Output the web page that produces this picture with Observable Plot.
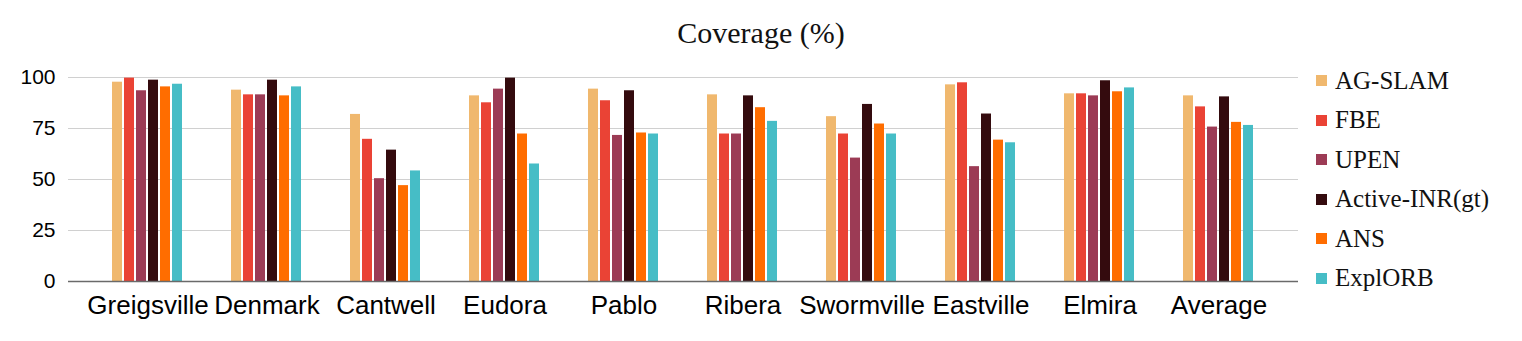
<!DOCTYPE html>
<html>
<head>
<meta charset="utf-8">
<script src="https://cdn.jsdelivr.net/npm/d3@7"></script>
<script src="https://cdn.jsdelivr.net/npm/@observablehq/plot@0.6"></script>
<style>
  html, body { margin: 0; padding: 0; background: #fff; }
  #wrap { position: relative; width: 1522px; height: 341px; overflow: hidden; }
  #title { position: absolute; left: 0; width: 1522px; top: 16px; text-align: center;
           font-family: "Liberation Serif", serif; font-size: 30px; color: #111; }
  #legend { position: absolute; left: 1316px; top: 61px; font-family: "Liberation Serif", serif; font-size: 25px; color: #111; }
  .item { display: flex; align-items: center; height: 39.5px; }
  .sw { width: 11px; height: 11px; margin-right: 8px; flex: none; }
</style>
</head>
<body>
<div id="wrap">
  <div id="chart"></div>
  <div id="title">Coverage (%)</div>
  <div id="legend"></div>
</div>
<script>
const groups = ["Greigsville", "Denmark", "Cantwell", "Eudora", "Pablo", "Ribera", "Swormville", "Eastville", "Elmira", "Average"];
const series = ["AG-SLAM", "FBE", "UPEN", "Active-INR(gt)", "ANS", "ExplORB"];
const colors = ["#F0B86E", "#EA4335", "#9C3B55", "#340B0E", "#FF6D00", "#46BDC6"];
const agSlam   = [97.7, 93.8, 81.9, 91.0, 94.3, 91.5, 80.8, 96.4, 92.0, 91.0];
const fbe      = [99.7, 91.5, 69.7, 87.6, 88.6, 72.3, 72.3, 97.4, 92.0, 85.6];
const upen     = [93.5, 91.5, 50.4, 94.3, 71.6, 72.3, 60.5, 56.3, 91.0, 75.7];
const activeInr= [98.7, 98.7, 64.4, 99.7, 93.5, 91.0, 86.8, 82.1, 98.4, 90.5];
const ans      = [95.4, 91.0, 47.0, 72.3, 72.8, 85.2, 77.2, 69.3, 93.0, 78.0];
const explorb  = [96.7, 95.4, 54.2, 57.6, 72.3, 78.5, 72.3, 68.0, 94.9, 76.5];
const yTicks = [0, 25, 50, 75, 100];

const valuesBySeries = [agSlam, fbe, upen, activeInr, ans, explorb];
const rows = [];
groups.forEach((g, gi) => {
  series.forEach((s, si) => rows.push({group: g, series: s, value: valuesBySeries[si][gi]}));
});

const gridTicks = yTicks.filter(d => d > 0);
const firstG = groups[0], lastG = groups[groups.length - 1];
const gridStyle = {stroke: "#d0d0d0", strokeWidth: 1};
const zeroStyle = {stroke: "#6a6a6a", strokeWidth: 1.5};

const chart = Plot.plot({
  width: 1522,
  height: 341,
  marginTop: 77,
  marginBottom: 60,
  marginLeft: 68,
  marginRight: 224,
  style: {fontFamily: "Liberation Sans, Arial, sans-serif", color: "#000", background: "#fff"},
  fx: {domain: groups, paddingInner: 0, paddingOuter: 0.168, label: null},
  x: {domain: series, paddingInner: 0.145, paddingOuter: 1.695, axis: null},
  y: {domain: [0, 100], label: null},
  color: {domain: series, range: colors},
  marks: [
    // grid lines: one segment per facet, plus end extensions in first and last facet
    Plot.ruleY(gridTicks, {...gridStyle}),
    Plot.ruleY(gridTicks, {...gridStyle, fx: () => firstG, insetLeft: -20, insetRight: 119}),
    Plot.ruleY(gridTicks, {...gridStyle, fx: () => lastG, insetLeft: 119, insetRight: -20}),
    Plot.barY(rows, {fx: "group", x: "series", y: "value", fill: "series"}),
    Plot.ruleY([0], {...zeroStyle}),
    Plot.ruleY([0], {...zeroStyle, fx: () => firstG, insetLeft: -20, insetRight: 119}),
    Plot.ruleY([0], {...zeroStyle, fx: () => lastG, insetLeft: 119, insetRight: -20}),
    Plot.axisY({ticks: yTicks, tickSize: 0, tickPadding: 33, fontSize: 21, label: null}),
    Plot.axisFx({anchor: "bottom", tickSize: 0, tickPadding: 14, fontSize: 26, label: null})
  ]
});
document.getElementById("chart").appendChild(chart);

const legend = document.getElementById("legend");
series.forEach((s, i) => {
  const item = document.createElement("div");
  item.className = "item";
  const sw = document.createElement("span");
  sw.className = "sw";
  sw.style.background = colors[i];
  const t = document.createElement("span");
  t.textContent = s;
  item.appendChild(sw);
  item.appendChild(t);
  legend.appendChild(item);
});
</script>
</body>
</html>
